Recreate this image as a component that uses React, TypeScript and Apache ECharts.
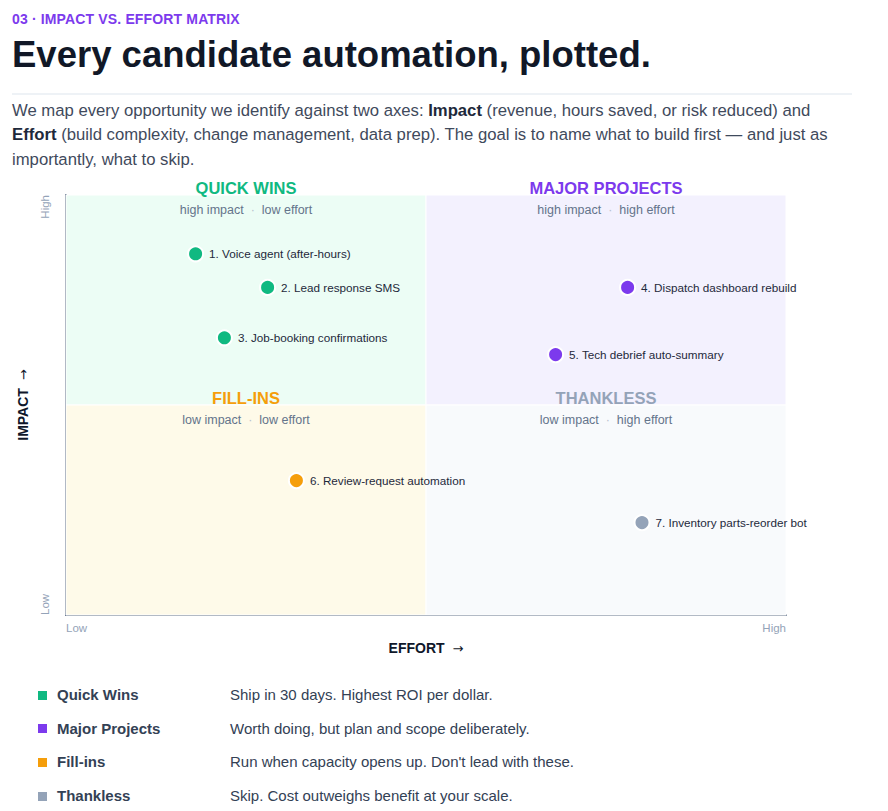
import React, { useEffect, useRef } from "react";
import * as echarts from "echarts";

// Candidate automations: effort (x) and impact (y) on a 0–100 scale
const ITEMS = [
  "1. Voice agent (after-hours)",
  "2. Lead response SMS",
  "3. Job-booking confirmations",
  "4. Dispatch dashboard rebuild",
  "5. Tech debrief auto-summary",
  "6. Review-request automation",
  "7. Inventory parts-reorder bot",
];
const EFFORT = [18, 28, 22, 78, 68, 32, 80];
const IMPACT = [86, 78, 66, 78, 62, 32, 22];
const QUADRANT_OF = ["quick", "quick", "quick", "major", "major", "fill", "thankless"];

const QUADRANT_KEYS = ["quick", "major", "fill", "thankless"];
const QUADRANT_TITLES = ["QUICK WINS", "MAJOR PROJECTS", "FILL-INS", "THANKLESS"];
const QUADRANT_SUBS = [
  ["high impact", "low effort"],
  ["high impact", "high effort"],
  ["low impact", "low effort"],
  ["low impact", "high effort"],
];
const QUADRANT_COLORS = ["#10b981", "#7c3aed", "#f59e0b", "#94a3b8"];
const QUADRANT_FILLS = ["#ecfdf5", "#f3f1fe", "#fefae9", "#f8fafc"];
// [xFrom, xTo, yFrom, yTo] in data units
const QUADRANT_AREAS = [
  [0, 50, 50, 100],
  [50, 100, 50, 100],
  [0, 50, 0, 50],
  [50, 100, 0, 50],
];

const LEGEND_NAMES = ["Quick Wins", "Major Projects", "Fill-ins", "Thankless"];
const LEGEND_NOTES = [
  "Ship in 30 days. Highest ROI per dollar.",
  "Worth doing, but plan and scope deliberately.",
  "Run when capacity opens up. Don't lead with these.",
  "Skip. Cost outweighs benefit at your scale.",
];

const FONT = "'Liberation Sans', Arial, Helvetica, sans-serif";
const ARROW_FONT = "'DejaVu Sans', sans-serif";

// chart canvas placement on the page
const CHART_TOP = 170;
const GRID_LEFT = 66;
const GRID_TOP = 25;
const GRID_W = 720;
const GRID_H = 420;

function Matrix() {
  const ref = useRef<HTMLDivElement>(null);

  useEffect(() => {
    if (!ref.current) return;
    const chart = echarts.init(ref.current, null, { renderer: "svg" });

    const series = QUADRANT_KEYS.map((key, qi) => {
      const data = ITEMS.map((name, i) => ({ name, value: [EFFORT[i], IMPACT[i]], q: QUADRANT_OF[i] }))
        .filter((d) => d.q === key)
        .map(({ name, value }) => ({ name, value }));
      const [x0, x1, y0, y1] = QUADRANT_AREAS[qi];
      return {
        type: "scatter",
        name: LEGEND_NAMES[qi],
        data,
        symbol: "circle",
        symbolSize: 15,
        itemStyle: { color: QUADRANT_COLORS[qi], borderColor: "#ffffff", borderWidth: 2, opacity: 1 },
        label: {
          show: true,
          position: "right",
          distance: 5,
          formatter: "{b}",
          fontFamily: FONT,
          fontSize: 11.7,
          color: "#1e293b",
        },
        z: 5,
        markArea: {
          silent: true,
          itemStyle: { color: QUADRANT_FILLS[qi], borderColor: "#ffffff", borderWidth: 1 },
          data: [[{ coord: [x0, y0] }, { coord: [x1, y1] }]],
        },
      };
    });

    const halfW = GRID_W / 2;
    const halfH = GRID_H / 2;
    const centers = [
      [GRID_LEFT + halfW / 2, GRID_TOP],
      [GRID_LEFT + halfW + halfW / 2, GRID_TOP],
      [GRID_LEFT + halfW / 2, GRID_TOP + halfH],
      [GRID_LEFT + halfW + halfW / 2, GRID_TOP + halfH],
    ];

    const graphics: any[] = [];
    centers.forEach(([cx, cy], qi) => {
      graphics.push({
        type: "text",
        x: cx,
        y: cy - 7,
        z: 10,
        style: {
          text: QUADRANT_TITLES[qi],
          fill: QUADRANT_COLORS[qi],
          font: `bold 16.5px ${FONT}`,
          textAlign: "center",
          textVerticalAlign: "middle",
        },
      });
      graphics.push({
        type: "text",
        x: cx,
        y: cy + 15,
        z: 10,
        style: {
          text: `{a|${QUADRANT_SUBS[qi][0]}}{d|  ·  }{a|${QUADRANT_SUBS[qi][1]}}`,
          textAlign: "center",
          textVerticalAlign: "middle",
          rich: {
            a: { fontFamily: FONT, fontSize: 12.5, fill: "#64748b" },
            d: { fontFamily: FONT, fontSize: 12.5, fill: "#b6c0cd" },
          },
        },
      });
    });

    // vertical end labels of the impact axis
    graphics.push({
      type: "text",
      x: 45,
      y: GRID_TOP,
      rotation: Math.PI / 2,
      style: {
        text: "High",
        fill: "#94a3b8",
        font: `11.5px ${FONT}`,
        textAlign: "right",
        textVerticalAlign: "middle",
      },
    });
    graphics.push({
      type: "text",
      x: 45,
      y: GRID_TOP + GRID_H,
      rotation: Math.PI / 2,
      style: {
        text: "Low",
        fill: "#94a3b8",
        font: `11.5px ${FONT}`,
        textAlign: "left",
        textVerticalAlign: "middle",
      },
    });

    const nameStyle = {
      rich: {
        n: { fontFamily: FONT, fontSize: 14, fontWeight: "bold", color: "#0f172a" },
        r: { fontFamily: ARROW_FONT, fontSize: 13, color: "#0f172a", padding: [0, 0, 0, 8] },
      },
    };

    chart.setOption({
      animation: false,
      grid: { left: GRID_LEFT, top: GRID_TOP, width: GRID_W, height: GRID_H, containLabel: false },
      xAxis: {
        type: "value",
        min: 0,
        max: 100,
        interval: 100,
        name: "{n|EFFORT}{r|→}",
        nameLocation: "middle",
        nameGap: 26,
        nameTextStyle: nameStyle,
        axisLine: { show: true, lineStyle: { color: "#64748b", width: 2 } },
        axisTick: { show: false },
        splitLine: { show: false },
        axisLabel: {
          show: true,
          margin: 7,
          fontFamily: FONT,
          fontSize: 11.5,
          color: "#94a3b8",
          alignMinLabel: "left",
          alignMaxLabel: "right",
          formatter: (v: number) => (v === 0 ? "Low" : v === 100 ? "High" : ""),
        },
      },
      yAxis: {
        type: "value",
        min: 0,
        max: 100,
        interval: 100,
        name: "{n|IMPACT}{r|→}",
        nameLocation: "middle",
        nameRotate: 90,
        nameGap: 36,
        nameTextStyle: nameStyle,
        axisLine: { show: true, lineStyle: { color: "#64748b", width: 2 } },
        axisTick: { show: false },
        splitLine: { show: false },
        axisLabel: { show: false },
      },
      graphic: graphics,
      series,
    });

    return () => chart.dispose();
  }, []);

  return (
    <div
      ref={ref}
      style={{ position: "absolute", left: 0, top: CHART_TOP, width: 888, height: 500 }}
    />
  );
}

export default function App() {
  return (
    <div style={{ position: "absolute", left: 0, top: 0, width: 888, height: 811, fontFamily: FONT, background: "#fff" }}>
      <div
        style={{
          position: "absolute",
          left: 12,
          top: 11.5,
          fontSize: 14,
          lineHeight: "14px",
          fontWeight: "bold",
          letterSpacing: 0.15,
          color: "#7c3aed",
          whiteSpace: "nowrap",
        }}
      >
        03 · IMPACT VS. EFFORT MATRIX
      </div>
      <div
        style={{
          position: "absolute",
          left: 12,
          top: 37.1,
          fontSize: 36.5,
          lineHeight: "36.5px",
          fontWeight: "bold",
          color: "#111827",
          whiteSpace: "nowrap",
        }}
      >
        Every candidate automation, plotted.
      </div>
      <div style={{ position: "absolute", left: 12, top: 93, width: 840, height: 2, background: "#eef2f6" }} />
      <div
        style={{
          position: "absolute",
          left: 12,
          top: 98.75,
          width: 840,
          fontSize: 16.7,
          lineHeight: "24.5px",
          color: "#3f4a5c",
        }}
      >
        We map every opportunity we identify against two axes: <b style={{ color: "#1e293b" }}>Impact</b> (revenue, hours
        saved, or risk reduced) and <b style={{ color: "#1e293b" }}>Effort</b> (build complexity, change management, data
        prep). The goal is to name what to build first — and just as importantly, what to skip.
      </div>
      <Matrix />
      {LEGEND_NAMES.map((name, i) => {
        const cy = 695 + i * 33.7;
        return (
          <React.Fragment key={name}>
            <div
              style={{
                position: "absolute",
                left: 38,
                top: cy - 4.5,
                width: 9,
                height: 9,
                background: QUADRANT_COLORS[i],
              }}
            />
            <div
              style={{
                position: "absolute",
                left: 57,
                top: cy - 10,
                fontSize: 15,
                lineHeight: "20px",
                fontWeight: "bold",
                color: "#334155",
                whiteSpace: "nowrap",
              }}
            >
              {name}
            </div>
            <div
              style={{
                position: "absolute",
                left: 230,
                top: cy - 10,
                fontSize: 15,
                lineHeight: "20px",
                color: "#334155",
                whiteSpace: "nowrap",
              }}
            >
              {LEGEND_NOTES[i]}
            </div>
          </React.Fragment>
        );
      })}
    </div>
  );
}
